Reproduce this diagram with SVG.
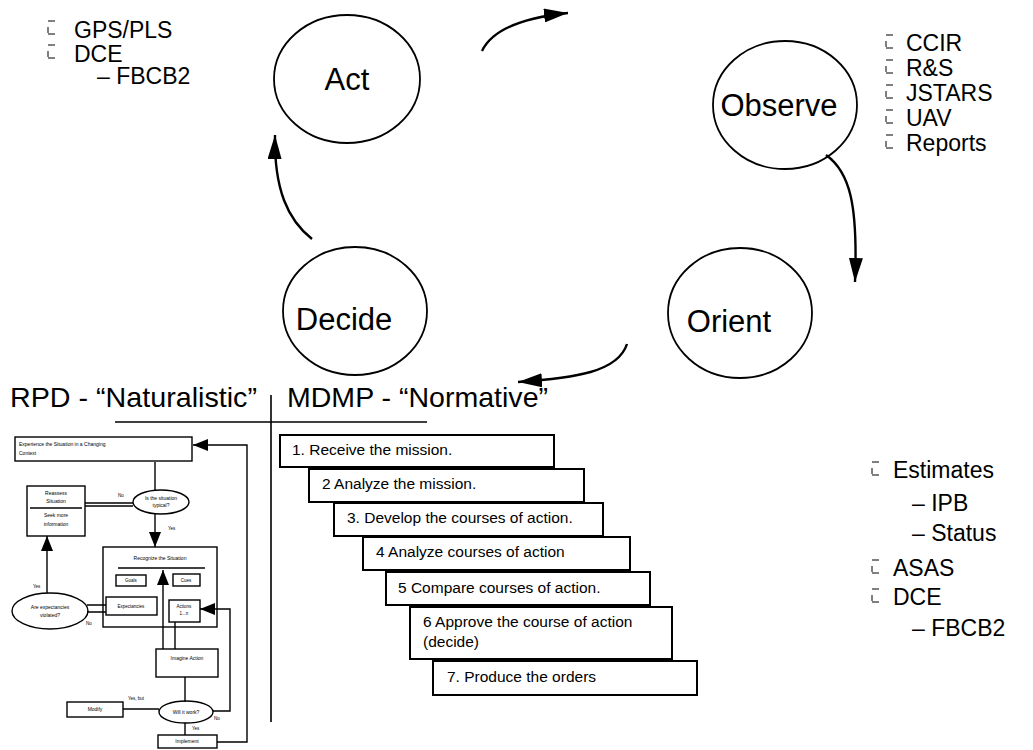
<svg xmlns="http://www.w3.org/2000/svg" width="1033" height="750" viewBox="0 0 1033 750">
<style>
.t{font-family:"Liberation Sans",Arial,sans-serif;fill:#000}
.big{font-size:31px}
.list{font-size:23px}
.step{font-size:15.5px}
.title{font-size:28px}
.tiny{font-size:5px}
.lbl{font-size:4.5px}
.node{fill:none;stroke:#000;stroke-width:1.8}
.box{fill:#fff;stroke:#000;stroke-width:2}
.conn{fill:none;stroke:#000;stroke-width:2.4}
.thin{fill:none;stroke:#000;stroke-width:1.4}
.bul{fill:none;stroke:#000;stroke-width:1}
.rule{fill:none;stroke:#000;stroke-width:1.6}
</style>
<defs>
<marker id="ah" markerUnits="userSpaceOnUse" markerWidth="26" markerHeight="14" refX="24" refY="7" orient="auto">
<path d="M0,0 L24,7 L0,14 Z" fill="#000"/>
</marker>
<marker id="ahs" markerUnits="userSpaceOnUse" markerWidth="16" markerHeight="12" refX="15" refY="6" orient="auto">
<path d="M0,0 L15,6 L0,12 Z" fill="#000"/>
</marker>
</defs>

<!-- OODA cycle nodes -->
<g id="act">
<ellipse class="node" cx="347" cy="79" rx="73" ry="64"/>
<text class="t big" x="347" y="90" text-anchor="middle">Act</text>
</g>
<g id="observe">
<ellipse class="node" cx="785" cy="105" rx="72" ry="64"/>
<text class="t big" x="779" y="116" text-anchor="middle">Observe</text>
</g>
<g id="orient">
<ellipse class="node" cx="740" cy="313" rx="72" ry="65"/>
<text class="t big" x="729" y="332" text-anchor="middle">Orient</text>
</g>
<g id="decide">
<ellipse class="node" cx="355" cy="311" rx="72" ry="64"/>
<text class="t big" x="344" y="330" text-anchor="middle">Decide</text>
</g>

<g id="connectors">
<path class="conn" d="M482,51 C492,30 520,18 568,13" marker-end="url(#ah)"/>
<path class="conn" d="M826,155 C850,172 858,205 855,282" marker-end="url(#ah)"/>
<path class="conn" d="M627,344 C618,372 575,378 518,382" marker-end="url(#ah)"/>
<path class="conn" d="M312,239 C288,220 274,190 275,135" marker-end="url(#ah)"/>
</g>

<!-- Act list -->
<g id="act-list">
<path class="bul" d="M55,21 H48 M48,27 V33 M48,34 H55"/>
<text class="t list" x="74" y="38">GPS/PLS</text>
<path class="bul" d="M55,45 H48 M48,51 V57 M48,58 H55"/>
<text class="t list" x="74" y="62">DCE</text>
<text class="t list" x="97" y="84">– FBCB2</text>
</g>

<!-- Observe list -->
<g id="observe-list">
<path class="bul" d="M893,35 H886 M886,41 V47 M886,48 H893"/>
<text class="t list" x="906" y="51">CCIR</text>
<path class="bul" d="M893,60 H886 M886,66 V72 M886,73 H893"/>
<text class="t list" x="906" y="76">R&amp;S</text>
<path class="bul" d="M893,85 H886 M886,91 V97 M886,98 H893"/>
<text class="t list" x="906" y="101">JSTARS</text>
<path class="bul" d="M893,110 H886 M886,116 V122 M886,123 H893"/>
<text class="t list" x="906" y="126">UAV</text>
<path class="bul" d="M893,135 H886 M886,141 V147 M886,148 H893"/>
<text class="t list" x="906" y="151">Reports</text>
</g>

<!-- Orient list -->
<g id="orient-list">
<path class="bul" d="M879,462 H872 M872,468 V474 M872,475 H879"/>
<text class="t list" x="893" y="478">Estimates</text>
<text class="t list" x="912" y="511">– IPB</text>
<text class="t list" x="912" y="541">– Status</text>
<path class="bul" d="M879,560 H872 M872,566 V572 M872,573 H879"/>
<text class="t list" x="893" y="576">ASAS</text>
<path class="bul" d="M879,589 H872 M872,595 V601 M872,602 H879"/>
<text class="t list" x="893" y="605">DCE</text>
<text class="t list" x="912" y="636">– FBCB2</text>
</g>

<!-- Titles and dividers -->
<g id="titles">
<text class="t title" x="10" y="407" textLength="247" lengthAdjust="spacingAndGlyphs">RPD - “Naturalistic”</text>
<text class="t title" x="287" y="407" textLength="261" lengthAdjust="spacingAndGlyphs">MDMP - “Normative”</text>
<path class="rule" d="M271,395 V722 M115,422 H427"/>
</g>

<!-- MDMP steps -->
<g id="mdmp-1"><rect class="box" x="280" y="435" width="274" height="32"/><text class="t step" x="292" y="455">1.  Receive the mission.</text></g>
<g id="mdmp-2"><rect class="box" x="309" y="469" width="275" height="33"/><text class="t step" x="322" y="489">2  Analyze the mission.</text></g>
<g id="mdmp-3"><rect class="box" x="334" y="503" width="269" height="33"/><text class="t step" x="347" y="523">3.  Develop the courses of action.</text></g>
<g id="mdmp-4"><rect class="box" x="363" y="537" width="267" height="33"/><text class="t step" x="376" y="557">4  Analyze courses of action</text></g>
<g id="mdmp-5"><rect class="box" x="386" y="572" width="264" height="33"/><text class="t step" x="398" y="593">5  Compare courses of action.</text></g>
<g id="mdmp-6"><rect class="box" x="410" y="607" width="262" height="52"/><text class="t step" x="423" y="627">6  Approve the course of action</text><text class="t step" x="423" y="647">(decide)</text></g>
<g id="mdmp-7"><rect class="box" x="433" y="661" width="264" height="34"/><text class="t step" x="447" y="682">7.  Produce the orders</text></g>

<!-- RPD flowchart -->
<g id="rpd-connectors">
<path class="thin" d="M155,462 V490"/>
<path class="thin" d="M133,503 H85 M133,506 H85"/>
<path class="thin" d="M155,514 V547" marker-end="url(#ahs)"/>
<path class="thin" d="M47,593 V536" marker-end="url(#ahs)"/>
<path class="thin" d="M87,605 H106 M87,612 H106"/>
<path class="thin" d="M163,649 V570" marker-end="url(#ahs)"/>
<path class="thin" d="M175,649 V622"/>
<path class="thin" d="M185,677 V702"/>
<path class="thin" d="M159,709 H123"/>
<path class="thin" d="M185,723 V735"/>
<path class="thin" d="M213,711 H230 V609 H200" marker-end="url(#ahs)"/>
<path class="thin" d="M217,742 H247 V445 H193" marker-end="url(#ahs)"/>
<text class="t lbl" x="118" y="497">No</text>
<text class="t lbl" x="168" y="530">Yes</text>
<text class="t lbl" x="33" y="588">Yes</text>
<text class="t lbl" x="86" y="625">No</text>
<text class="t lbl" x="128" y="700">Yes, but</text>
<text class="t lbl" x="192" y="730">Yes</text>
<text class="t lbl" x="214" y="720">No</text>
</g>
<g id="rpd-experience"><rect class="thin" x="15" y="437" width="177" height="24"/><text class="t tiny" x="19" y="446">Experience the Situation in a Changing</text><text class="t tiny" x="19" y="455">Context</text></g>
<g id="rpd-typical"><ellipse class="thin" cx="161" cy="502" rx="28" ry="12"/><text class="t tiny" x="161" y="500" text-anchor="middle">Is the situation</text><text class="t tiny" x="161" y="507" text-anchor="middle">typical?</text></g>
<g id="rpd-reassess"><rect class="thin" x="27" y="486" width="58" height="50"/><path class="thin" d="M30,508 H82"/><text class="t tiny" x="56" y="495" text-anchor="middle">Reassess</text><text class="t tiny" x="56" y="503" text-anchor="middle">Situation</text><text class="t tiny" x="56" y="517" text-anchor="middle">Seek more</text><text class="t tiny" x="56" y="526" text-anchor="middle">information</text></g>
<g id="rpd-recognize"><rect class="thin" x="103" y="547" width="114" height="80"/><path class="thin" d="M118,568 H205"/><text class="t tiny" x="160" y="560" text-anchor="middle">Recognize the Situation</text>
<rect class="thin" x="116" y="575" width="30" height="11"/><text class="t lbl" x="131" y="582" text-anchor="middle">Goals</text>
<rect class="thin" x="173" y="574" width="27" height="12"/><text class="t lbl" x="186" y="582" text-anchor="middle">Cues</text>
<rect class="thin" x="106" y="597" width="51" height="18"/><text class="t lbl" x="131" y="608" text-anchor="middle">Expectancies</text>
<rect class="thin" x="169" y="600" width="31" height="22"/><text class="t lbl" x="184" y="608" text-anchor="middle">Actions</text><text class="t lbl" x="184" y="615" text-anchor="middle">1...n</text></g>
<g id="rpd-violated"><ellipse class="thin" cx="50" cy="611" rx="38" ry="18"/><text class="t tiny" x="50" y="609" text-anchor="middle">Are expectancies</text><text class="t tiny" x="50" y="617" text-anchor="middle">violated?</text></g>
<g id="rpd-imagine"><rect class="thin" x="156" y="649" width="62" height="28"/><text class="t tiny" x="187" y="660" text-anchor="middle">Imagine Action</text></g>
<g id="rpd-work"><ellipse class="thin" cx="186" cy="712" rx="27" ry="11"/><text class="t tiny" x="186" y="714" text-anchor="middle">Will it work?</text></g>
<g id="rpd-modify"><rect class="thin" x="67" y="702" width="56" height="15"/><text class="t tiny" x="95" y="711" text-anchor="middle">Modify</text></g>
<g id="rpd-implement"><rect class="thin" x="158" y="735" width="59" height="13"/><text class="t tiny" x="187" y="743" text-anchor="middle">Implement</text></g>
</svg>
